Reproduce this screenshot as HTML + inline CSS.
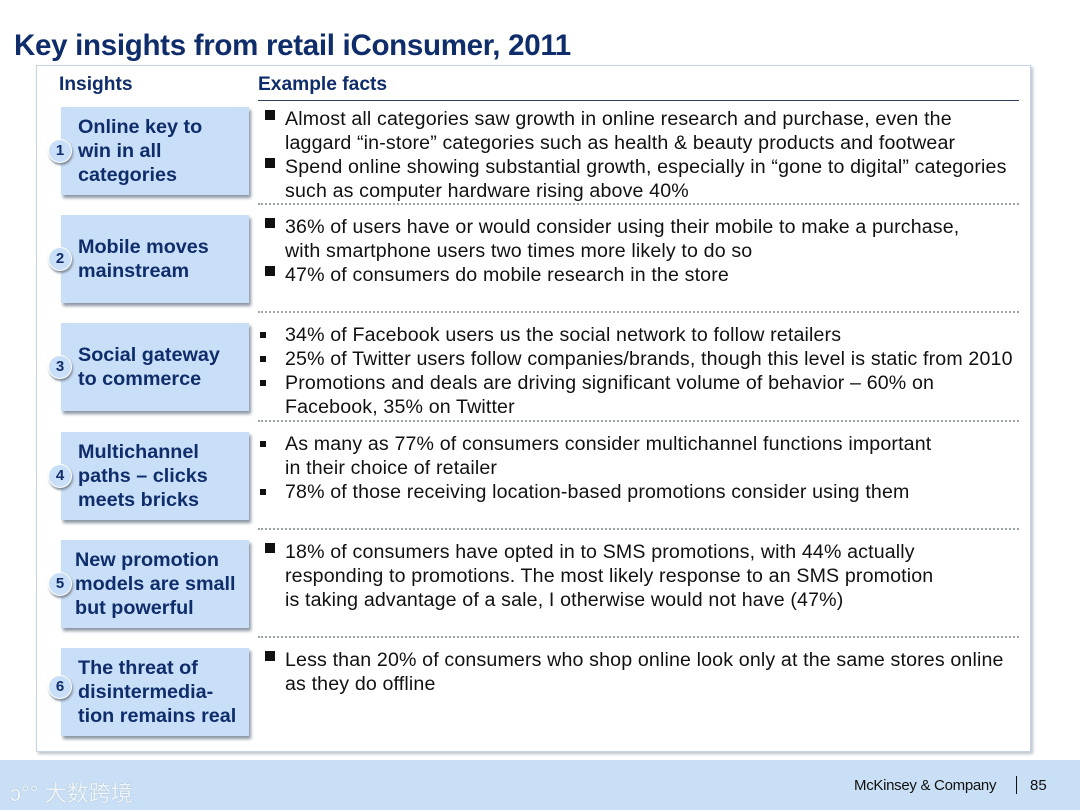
<!DOCTYPE html>
<html><head><meta charset="utf-8"><style>
body{margin:0;width:1080px;height:810px;background:#fff;font-family:"Liberation Sans",Arial,sans-serif;position:relative;overflow:hidden}
.abs{position:absolute}
#title{left:14px;top:29px;font-size:29.5px;font-weight:bold;color:#0f2d6b;letter-spacing:-0.3px}
#panel{left:36px;top:65px;width:993px;height:685px;border:1px solid #c5d3e2;box-shadow:2px 2px 3px #b9c2cc}
.hd{font-size:19.2px;font-weight:bold;color:#0f2d6b}
#hline{left:258px;top:100px;width:761px;height:1px;background:#2f3f5f}
.box{left:61px;width:188px;height:88px;background:#c8dff7;box-shadow:2px 3px 3px #8c96a3;color:#0f2d6b;font-weight:bold;font-size:19.8px;line-height:24px;display:flex;align-items:center;padding-left:17px;box-sizing:border-box;white-space:nowrap}
.num{left:48px;width:22px;height:22px;border-radius:50%;background:#c8dff7;border:1px solid #fff;box-shadow:1px 2px 2px #7f8a99;color:#0f2d6b;font-weight:bold;font-size:15px;line-height:22px;text-align:center}
.sep{left:258px;width:761px;border-top:2px dotted #9aa3ad}
.facts{left:265px;width:780px;font-size:19.6px;letter-spacing:0.15px;line-height:24px;color:#111;white-space:nowrap}
.f{position:relative;padding-left:20px}
.f::before{content:"";position:absolute;left:0;top:3px;width:10px;height:10px;background:#111}
.s .f::before{left:-5px;top:9px;width:6px;height:6px}
#footer{left:0;top:760px;width:1080px;height:50px;background:#c9dff5}
</style></head><body>
<div id="title" class="abs">Key insights from retail iConsumer, 2011</div>
<div id="panel" class="abs"></div>
<div class="abs hd" style="left:59px;top:74px">Insights</div>
<div class="abs hd" style="left:258px;top:74px">Example facts</div>
<div id="hline" class="abs"></div>

<div class="abs box" style="top:107px">Online key to<br>win in all<br>categories</div>
<div class="abs num" style="top:139px">1</div>
<div class="abs box" style="top:215px">Mobile moves<br>mainstream</div>
<div class="abs num" style="top:247px">2</div>
<div class="abs box" style="top:323px">Social gateway<br>to commerce</div>
<div class="abs num" style="top:355px">3</div>
<div class="abs box" style="top:432px">Multichannel<br>paths – clicks<br>meets bricks</div>
<div class="abs num" style="top:464px">4</div>
<div class="abs box" style="top:540px;padding-left:14px">New promotion<br>models are small<br>but powerful</div>
<div class="abs num" style="top:572px">5</div>
<div class="abs box" style="top:648px">The threat of<br>disintermedia-<br>tion remains real</div>
<div class="abs num" style="top:675px">6</div>

<div class="abs sep" style="top:203px"></div>
<div class="abs sep" style="top:311px"></div>
<div class="abs sep" style="top:420px"></div>
<div class="abs sep" style="top:528px"></div>
<div class="abs sep" style="top:636px"></div>

<div class="abs facts" style="top:107px">
<div class="f">Almost all categories saw growth in online research and purchase, even the<br>laggard “in-store” categories such as health &amp; beauty products and footwear</div>
<div class="f">Spend online showing substantial growth, especially in “gone to digital” categories<br>such as computer hardware rising above 40%</div></div>
<div class="abs facts" style="top:215px">
<div class="f">36% of users have or would consider using their mobile to make a purchase,<br>with smartphone users two times more likely to do so</div>
<div class="f">47% of consumers do mobile research in the store</div></div>
<div class="abs facts s" style="top:323px">
<div class="f">34% of Facebook users us the social network to follow retailers</div>
<div class="f">25% of Twitter users follow companies/brands, though this level is static from 2010</div>
<div class="f">Promotions and deals are driving significant volume of behavior – 60% on<br>Facebook, 35% on Twitter</div></div>
<div class="abs facts s" style="top:432px">
<div class="f">As many as 77% of consumers consider multichannel functions important<br>in their choice of retailer</div>
<div class="f">78% of those receiving location-based promotions consider using them</div></div>
<div class="abs facts" style="top:540px">
<div class="f">18% of consumers have opted in to SMS promotions, with 44% actually<br>responding to promotions. The most likely response to an SMS promotion<br>is taking advantage of a sale, I otherwise would not have (47%)</div></div>
<div class="abs facts" style="top:648px">
<div class="f">Less than 20% of consumers who shop online look only at the same stores online<br>as they do offline</div></div>

<div id="footer" class="abs"></div>
<div class="abs" style="left:10px;top:776px;font-size:22px;color:#eef5fc;font-family:'Liberation Sans','Noto Sans CJK SC',sans-serif;text-shadow:0 0 1px #8fa3b5">ↄ°° 大数跨境</div>
<div class="abs" style="left:854px;top:777px;font-size:15px;letter-spacing:-0.3px;color:#111">McKinsey &amp; Company</div>
<div class="abs" style="left:1016px;top:776px;width:1px;height:18px;background:#111"></div>
<div class="abs" style="left:1030px;top:777px;font-size:15px;color:#111">85</div>
</body></html>
